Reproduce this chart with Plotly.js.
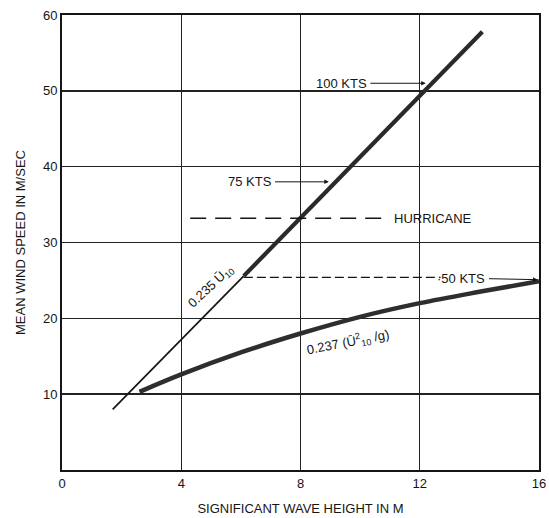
<!DOCTYPE html>
<html>
<head>
<meta charset="utf-8">
<script src="https://cdn.plot.ly/plotly-3.0.1.min.js"></script>
<style>html,body{margin:0;padding:0;background:#fff;}#chart{width:549px;height:518px;}</style>
</head>
<body>
<div id="chart"></div>
<script>
// Straight relation 0.235 U10 (thin below 50 kts, thick above)
const linearH = [1.7, 6.1, 14.1];
const linearU = [8.0, 25.6, 57.8];
// Curve 0.237 (U10^2/g)
const curveH = [2.6, 4, 6, 8, 10, 12, 14, 16];
const curveU = [10.3, 12.6, 15.5, 18.0, 20.2, 22.0, 23.5, 24.9];
// Hurricane reference (dashed)
const hurricaneH = [4.3, 11.0];
const hurricaneU = [33.2, 33.2];
// 50 kts reference (dashed)
const fiftyH = [6.1, 12.7];
const fiftyU = [25.4, 25.4];
// Knot labels: text position and arrow target
const ktsLabels = ['100 KTS', '75 KTS', '·50 KTS'];
const ktsTextH = [9.37, 6.29, 13.4];
const ktsTextU = [51.0, 38.0, 25.3];
const ktsHeadH = [12.2, 8.95, 15.95];
const ktsHeadU = [51.0, 38.0, 25.1];
const xTicks = [0, 4, 8, 12, 16];
const yTicks = [10, 20, 30, 40, 50, 60];

const FONT = '"Liberation Sans", Arial, Helvetica, sans-serif';
const INK = '#151515';

const traces = [
  {x: linearH.slice(0, 2), y: linearU.slice(0, 2), mode: 'lines', line: {color: INK, width: 1.7}, hoverinfo: 'skip'},
  {x: linearH.slice(1), y: linearU.slice(1), mode: 'lines', line: {color: '#2a2a2a', width: 4.2}, hoverinfo: 'skip'},
  {x: curveH, y: curveU, mode: 'lines', line: {color: '#2e2e2e', width: 4.5, shape: 'spline'}, hoverinfo: 'skip'},
  {x: hurricaneH, y: hurricaneU, mode: 'lines', line: {color: INK, width: 1.4, dash: '16px,9px'}, hoverinfo: 'skip'},
  {x: fiftyH, y: fiftyU, mode: 'lines', line: {color: INK, width: 1.4, dash: '9px,4px'}, hoverinfo: 'skip'}
];

const annotations = [];
for (let i = 0; i < ktsLabels.length; i++) {
  annotations.push({
    x: ktsHeadH[i], y: ktsHeadU[i], xref: 'x', yref: 'y',
    ax: ktsTextH[i], ay: ktsTextU[i], axref: 'x', ayref: 'y',
    text: ktsLabels[i], showarrow: true, arrowhead: 2, arrowsize: 0.9,
    arrowwidth: 1, arrowcolor: INK, standoff: 0, startstandoff: 2,
    font: {family: FONT, size: 13, color: INK}
  });
}
annotations.push({
  x: 11.06, y: 33.2, xref: 'x', yref: 'y', xanchor: 'left', yanchor: 'middle',
  text: 'HURRICANE', showarrow: false, font: {family: FONT, size: 13, color: INK}
});
annotations.push({
  x: 5.0, y: 24.2, xref: 'x', yref: 'y', text: '0.235 Ū<sub>10</sub>',
  textangle: -43, showarrow: false, font: {family: FONT, size: 13, color: INK}
});
annotations.push({
  x: 9.6, y: 16.9, xref: 'x', yref: 'y', text: '0.237 (Ū<sup>2</sup><sub>10</sub> /g)',
  textangle: -11, showarrow: false, font: {family: FONT, size: 13, color: INK}
});

const layout = {
  width: 549, height: 518,
  margin: {l: 62, r: 10, t: 15, b: 48},
  paper_bgcolor: '#fff', plot_bgcolor: '#fff',
  showlegend: false,
  font: {family: FONT, color: INK},
  xaxis: {
    range: [0, 16], tickvals: xTicks, ticktext: xTicks.map(String),
    showgrid: true, gridcolor: '#222', gridwidth: 1.4,
    showline: true, linecolor: INK, linewidth: 2, mirror: true,
    zeroline: false, ticks: '', ticklen: 0, ticklabeloverflow: 'allow',
    tickfont: {family: FONT, size: 13, color: INK},
    title: {text: 'SIGNIFICANT WAVE HEIGHT IN M', font: {family: FONT, size: 13, color: INK}, standoff: 14}
  },
  yaxis: {
    range: [0, 60], tickvals: yTicks, ticktext: yTicks.map(String),
    showgrid: true, gridcolor: '#222', gridwidth: 1.4,
    showline: true, linecolor: INK, linewidth: 2, mirror: true,
    zeroline: false, ticks: '', ticklen: 0,
    tickfont: {family: FONT, size: 13, color: INK},
    title: {text: 'MEAN WIND SPEED IN M/SEC', font: {family: FONT, size: 13, color: INK}, standoff: 14}
  },
  annotations: annotations
};

Plotly.newPlot('chart', traces, layout, {displayModeBar: false, staticPlot: true});
</script>
</body>
</html>
